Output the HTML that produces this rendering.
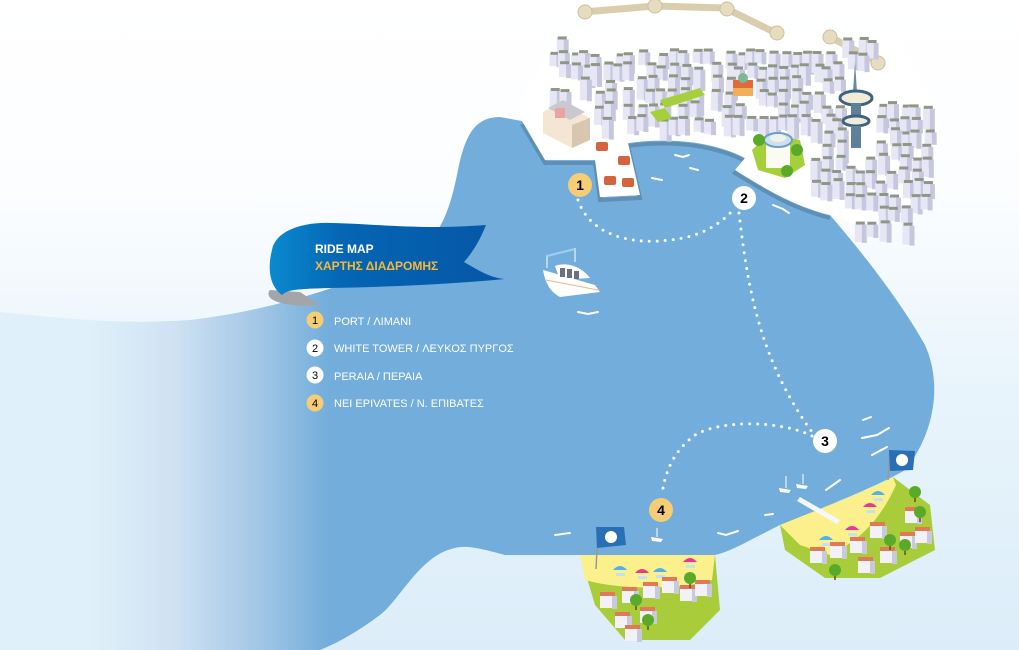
<!DOCTYPE html>
<html><head><meta charset="utf-8">
<style>
html,body{margin:0;padding:0;width:1019px;height:650px;overflow:hidden;background:#fff;}
svg{display:block}
text{font-family:"Liberation Sans","DejaVu Sans",sans-serif;}
</style></head>
<body>
<svg id="s" width="1019" height="650" viewBox="0 0 1019 650" xmlns="http://www.w3.org/2000/svg">
<defs>
<linearGradient id="bg" x1="0" y1="0" x2="0" y2="1">
<stop offset="0" stop-color="#ffffff"/><stop offset="0.3" stop-color="#fbfdff"/><stop offset="0.6" stop-color="#e8f4fb"/><stop offset="1" stop-color="#dcedf9"/></linearGradient>
<linearGradient id="sea" gradientUnits="userSpaceOnUse" x1="90" y1="0" x2="330" y2="0">
<stop offset="0" stop-color="#e0f0fa"/><stop offset="0.35" stop-color="#cfe2f3"/><stop offset="0.7" stop-color="#a3c7e6"/><stop offset="1" stop-color="#72addb"/></linearGradient>
<linearGradient id="rib" x1="0" y1="0" x2="1" y2="0"><stop offset="0" stop-color="#0a8ad0"/><stop offset="0.3" stop-color="#0466b4"/><stop offset="1" stop-color="#0656a6"/></linearGradient>
</defs>
<rect width="1019" height="650" fill="url(#bg)"/>
<!-- sea -->
<path fill="url(#sea)" d="M0,312 C60,318 120,325 190,320 C260,312 330,292 400,262 C440,245 450,210 458,170 C465,135 475,117 500,117 L522,121 L545,160 L595,160 L600,197 L640,195 L628,143 C680,136 720,145 745,158 L735,170 C760,185 790,205 830,215 C860,250 900,300 925,345 C945,390 930,440 905,470 C880,485 830,505 780,525 C750,540 730,552 715,555 L580,555 L505,555 C480,548 465,545 455,548 C420,555 400,600 380,615 C360,630 340,642 320,650 L0,650 Z"/>
<path d="M522,121 L545,160 L595,160 L600,197 L640,195 L628,143 C680,136 720,145 745,158 L735,170 C760,185 790,205 830,215" fill="none" stroke="#5f8fb3" stroke-width="4" transform="translate(0,3)"/>
<path fill="#ffffff" d="M522,121 L545,160 L595,160 L600,197 L640,195 L628,143 C680,136 720,145 745,158 L735,170 C760,185 790,205 830,215 L870,230 L930,200 L940,120 L900,40 L560,30 L520,100 Z"/>
<!-- walls -->
<g stroke="#d9cdae" fill="none" stroke-linecap="round">
<polyline points="583,12 655,6 725,8 776,33" stroke-width="7"/>
<polyline points="832,38 880,63" stroke-width="7"/>
</g>
<g fill="#e8dcc0" stroke="#cdbf9c" stroke-width="1">
<circle cx="585" cy="12" r="7"/><circle cx="655" cy="6" r="7"/><circle cx="727" cy="9" r="7"/><circle cx="777" cy="33" r="7"/><circle cx="830" cy="37" r="7"/><circle cx="878" cy="63" r="7"/>
</g>
<g id="bld"></g>
<g><polygon points="543,112 560,103 590,118 590,140 572,148 543,133" fill="#f3e6d2"/><polygon points="572,125 590,118 590,140 572,148" fill="#d8c7ae"/><polygon points="548,108 563,100 585,112 570,120" fill="#c9c9cf"/><rect x="555" y="108" width="10" height="10" fill="#e7a4a0"/></g>
<g fill="#d4643e"><rect x="596" y="142" width="12" height="9" rx="2"/><rect x="618" y="156" width="12" height="9" rx="2"/><rect x="604" y="176" width="12" height="9" rx="2"/><rect x="622" y="178" width="12" height="9" rx="2"/></g>
<polygon points="660,100 700,88 705,95 665,108" fill="#a6cf3c"/><polygon points="650,112 665,108 672,118 658,122" fill="#a6cf3c"/>
<g><rect x="733" y="80" width="20" height="16" fill="#e06a3a"/><rect x="733" y="88" width="20" height="8" fill="#f0b05a"/><circle cx="743" cy="78" r="5" fill="#7fb59a"/></g>
<g><polygon points="752,150 770,133 800,140 805,165 785,178 758,170" fill="#a6cf3c"/>
<rect x="766" y="140" width="24" height="28" fill="#fbfbf3"/><ellipse cx="778" cy="140" rx="14" ry="7" fill="#cfe0ea" stroke="#6d9ec4" stroke-width="2"/><ellipse cx="778" cy="138" rx="8" ry="4" fill="#eef3ee"/>
<circle cx="759" cy="140" r="6" fill="#5aaa2a"/><circle cx="797" cy="150" r="6" fill="#5aaa2a"/><circle cx="787" cy="171" r="6" fill="#5aaa2a"/></g>
<g><polygon points="855,62 857,92 853,92" fill="#6a8aa4"/><ellipse cx="856" cy="98" rx="16" ry="7" fill="#f0ecd8" stroke="#3f6380" stroke-width="3"/><rect x="851" y="103" width="10" height="15" fill="#5f8099"/><ellipse cx="856" cy="121" rx="13" ry="5" fill="#f0ecd8" stroke="#3f6380" stroke-width="3"/><rect x="851" y="126" width="10" height="22" fill="#5f8099"/></g>
<g fill="none" stroke="#fff" stroke-width="3" stroke-linecap="round" stroke-dasharray="0 8">
<path d="M578,200 C590,235 630,245 670,240 C700,237 720,225 735,208"/>
<path d="M739,213 C748,290 760,360 812,432"/>
<path d="M812,436 C780,420 720,420 695,435 C675,450 665,470 662,495"/>
</g>
<g stroke="#fff" stroke-width="2" fill="none" stroke-linecap="round">
<path d="M675,155 l8,2 l6,-2"/><path d="M690,168 l8,2"/><path d="M652,178 l10,2"/><path d="M773,205 l10,4 l6,4"/>
<path d="M578,312 l10,2 l10,-2"/><path d="M863,420 l8,-3"/><path d="M862,438 l15,-3 l12,-7"/><path d="M872,455 l15,-8"/><path d="M826,490 l14,-10"/>
<path d="M718,533 l8,2 l12,-4"/><path d="M555,535 l15,-2"/><path d="M765,515 l8,-1"/>
</g>
<g><path d="M543,270 L595,285 L600,292 L560,297 C550,292 545,282 543,270Z" fill="#fff"/><path d="M555,266 C565,262 580,265 590,278 L560,280Z" fill="#fff"/><g fill="#6a7180"><rect x="560" y="268" width="5" height="9"/><rect x="567" y="269" width="5" height="9"/><rect x="574" y="271" width="5" height="8"/></g><line x1="546" y1="280" x2="598" y2="290" stroke="#f3b38a" stroke-width="1"/><line x1="547" y1="268" x2="547" y2="255" stroke="#fff"/><line x1="575" y1="262" x2="575" y2="248" stroke="#fff"/><line x1="547" y1="256" x2="575" y2="249" stroke="#9fd0f0" stroke-width="2"/></g>
<g fill="#fff"><path d="M779,488 l12,2 l-2,3 l-9,-1z"/><path d="M796,484 l12,2 l-2,3 l-9,-1z"/><path d="M651,537 l12,2 l-2,3 l-9,-1z"/><line x1="786" y1="488" x2="786" y2="476" stroke="#fff"/><line x1="803" y1="484" x2="803" y2="474" stroke="#fff"/><line x1="657" y1="537" x2="657" y2="528" stroke="#fff"/></g>
<!-- beach 3 -->
<path d="M780,525 C830,505 870,490 893,477 L930,505 L935,550 L880,578 L825,578 L785,550 Z" fill="#a9cd3a"/>
<path d="M780,525 C830,505 870,490 893,477 L896,485 C880,520 860,540 830,555 L800,545 Z" fill="#fbf08c"/>
<polygon points="800,497 840,520 837,524 797,501" fill="#f4f8fb"/>
<!-- beach 4 -->
<path d="M580,555 L715,555 L720,610 L690,640 L625,640 L595,605 Z" fill="#a9cd3a"/>
<path d="M580,555 L715,555 L712,580 C680,590 620,590 585,580 Z" fill="#fbf08c"/>
<g id="umb"></g>
<g id="hs"></g>
<g><line x1="596" y1="569" x2="598" y2="530" stroke="#999" stroke-width="1.5"/><path d="M596,527 L624,527 L626,545 L597,548Z" fill="#2a6fb6"/><circle cx="611" cy="537" r="6" fill="#fff"/>
<line x1="888" y1="480" x2="890" y2="450" stroke="#999" stroke-width="1.5"/><path d="M889,450 L915,451 L913,470 L890,471Z" fill="#2a6fb6"/><circle cx="902" cy="460" r="6" fill="#fff"/></g>
<g font-weight="bold" font-size="14" text-anchor="middle">
<circle cx="580" cy="185" r="12" fill="#f5cd74"/><text x="580" y="190">1</text>
<circle cx="744" cy="198" r="12" fill="#fff"/><text x="744" y="203">2</text>
<circle cx="825" cy="441" r="12" fill="#fff"/><text x="825" y="446">3</text>
<circle cx="661" cy="510" r="12" fill="#f5cd74"/><text x="661" y="515">4</text>
</g>
<path d="M270,290 C262,300 285,308 320,305 L300,292 Z" fill="#a3a5a8"/>
<path d="M272,250 C275,232 300,222 330,223 C380,224 420,230 486,225 C478,245 470,255 464,262 C478,270 490,278 505,279 C440,285 380,287 330,288 C300,289 288,289 282,295 C268,285 268,265 272,250Z" fill="url(#rib)"/>
<text x="315" y="253" font-size="12" font-weight="bold" fill="#fff">RIDE MAP</text>
<text x="315" y="270" font-size="12" font-weight="bold" fill="#f5b83a">ΧΑΡΤΗΣ ΔΙΑΔΡΟΜΗΣ</text>
<g font-size="11" text-anchor="middle">
<circle cx="315" cy="320" r="8.5" fill="#f5cd74"/><text x="315" y="324">1</text>
<circle cx="315" cy="348" r="8.5" fill="#fff"/><text x="315" y="352">2</text>
<circle cx="315" cy="375" r="8.5" fill="#fff"/><text x="315" y="379">3</text>
<circle cx="315" cy="403" r="8.5" fill="#f5cd74"/><text x="315" y="407">4</text>
</g>
<g font-size="11" fill="#fff">
<text x="334" y="325">PORT / ΛΙΜΑΝΙ</text>
<text x="334" y="352">WHITE TOWER / ΛΕΥΚΟΣ ΠΥΡΓΟΣ</text>
<text x="334" y="380">PERAIA / ΠΕΡΑΙΑ</text>
<text x="334" y="407">NEI EPIVATES / Ν. ΕΠΙΒΑΤΕΣ</text>
</g>
</svg>
<script>
(function(){
var NS="http://www.w3.org/2000/svg";
function el(p,t,a){var e=document.createElementNS(NS,t);for(var k in a)e.setAttribute(k,a[k]);p.appendChild(e);return e;}
var seed=7;function r(){seed=(seed*9301+49297)%233280;return seed/233280;}
var g=document.getElementById("bld");
function inCity(x,y){
 if(y<38||y>225)return false;
 if(x<548||x>925)return false;
 if(x<590&&y>105)return false;
 if(x>=590&&x<750&&y>128)return false;
 if(x>=740&&x<810&&y>125)return false;
 if(x>=810&&x<840&&y>185)return false;
 if(x<830&&y<50&&x>560)return false;
 if(x>840&&x<870&&y>55&&y<150)return false;
 if(x>870&&y<100)return false;
 if(x>727&&x<755&&y>72&&y<100)return false;
 return true;}
for(var y=40;y<225;y+=13){for(var x=548;x<925;x+=11){
 var xx=x+r()*6-3,yy=y+r()*6-3;
 if(!inCity(xx,yy)||r()<0.15)continue;
 var h=12+r()*10;
 el(g,"rect",{x:xx,y:yy,width:7,height:h,fill:"#e6e6f4"});
 el(g,"rect",{x:xx+7,y:yy+1,width:5,height:h,fill:"#c6c7de"});
 el(g,"rect",{x:xx+1,y:yy-2,width:9,height:3,fill:"#8f9686"});
}}
var hg=document.getElementById("hs");
var hs=[[600,595],[622,590],[643,585],[662,580],[680,588],[695,583],[615,615],[640,610],[625,628],[810,550],[830,545],[850,540],[870,525],[880,550],[905,510],[900,535],[915,530],[858,560]];
hs.forEach(function(p){el(hg,"rect",{x:p[0],y:p[1],width:12,height:13,fill:"#f1f1f7"});el(hg,"rect",{x:p[0]+12,y:p[1]+1,width:5,height:13,fill:"#c9c9dd"});el(hg,"rect",{x:p[0],y:p[1]-3,width:15,height:4,fill:"#e07a55"});});
var tr=[[648,620],[690,578],[636,600],[920,512],[905,545],[890,540],[835,570],[915,492]];
tr.forEach(function(p){el(hg,"line",{x1:p[0],y1:p[1],x2:p[0],y2:p[1]+10,stroke:"#6b4a2a","stroke-width":1.5});el(hg,"circle",{cx:p[0],cy:p[1],r:6,fill:"#5aaa2a"});});
var u=document.getElementById("umb");
[[620,570,"#4fb2e8"],[642,573,"#e8388f"],[660,572,"#4fb2e8"],[690,562,"#e8388f"],[826,540,"#4fb2e8"],[852,530,"#e8388f"],[870,507,"#e8388f"],[878,495,"#4fb2e8"]].forEach(function(p){
 el(u,"path",{d:"M"+(p[0]-7)+","+p[1]+" Q"+p[0]+","+(p[1]-8)+" "+(p[0]+7)+","+p[1]+"Z",fill:p[2]});
 el(u,"rect",{x:p[0]-4,y:p[1]+3,width:9,height:3,fill:"#bfe3f5"});});
})();
</script>
</body></html>
